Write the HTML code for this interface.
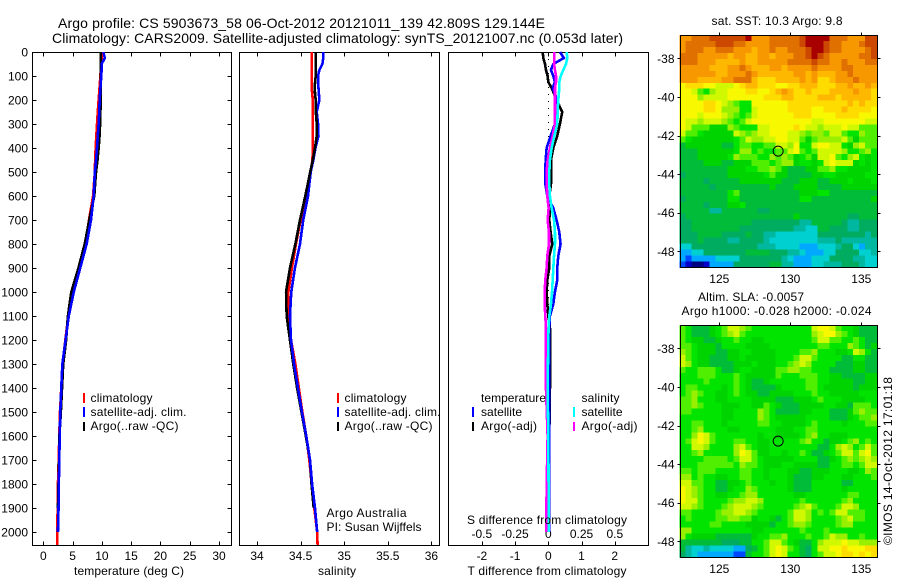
<!DOCTYPE html>
<html lang="en">
<head>
<meta charset="utf-8">
<title>Argo profile chart</title>
<style>
html,body{margin:0;padding:0;background:#fff;}
#chart{display:block;width:900px;height:580px;font-family:"Liberation Sans",sans-serif;font-size:12px;fill:#000;}
text{fill:#000;}
</style>
</head>
<body>
<svg id="chart" xmlns="http://www.w3.org/2000/svg" width="900" height="580" viewBox="0 0 900 580">
  <text x="58" y="28" font-size="14" textLength="487">Argo profile: CS 5903673_58 06-Oct-2012 20121011_139 42.809S 129.144E</text>
  <text x="52" y="43" font-size="14" textLength="571">Climatology: CARS2009. Satellite-adjusted climatology: synTS_20121007.nc (0.053d later)</text>
  <g id="panels"></g>
  <g id="maps"></g>

  <text x="129" y="575" text-anchor="middle" textLength="110">temperature (deg C)</text>
  <text x="337" y="575" text-anchor="middle" textLength="38">salinity</text>
  <text x="547" y="575" text-anchor="middle" textLength="159">T difference from climatology</text>
  <text x="547" y="524" text-anchor="middle" textLength="160">S difference from climatology</text>

  <g>
    <rect x="83" y="393" width="2" height="10" fill="#ff0000"/>
    <rect x="83" y="407" width="2" height="10" fill="#0000ff"/>
    <rect x="83" y="422" width="2" height="9" fill="#000"/>
    <text x="90.5" y="402" textLength="62">climatology</text>
    <text x="90.5" y="416" textLength="96">satellite-adj. clim.</text>
    <text x="90.5" y="430" textLength="88">Argo(..raw -QC)</text>
  </g>
  <g>
    <rect x="337" y="393" width="2" height="10" fill="#ff0000"/>
    <rect x="337" y="407" width="2" height="10" fill="#0000ff"/>
    <rect x="337" y="422" width="2" height="9" fill="#000"/>
    <text x="344.5" y="402" textLength="62">climatology</text>
    <text x="344.5" y="416" textLength="96">satellite-adj. clim.</text>
    <text x="344.5" y="430" textLength="88">Argo(..raw -QC)</text>
  </g>
  <g>
    <text x="481" y="402" textLength="65">temperature</text>
    <rect x="472" y="407" width="2" height="10" fill="#0000ff"/>
    <rect x="472" y="422" width="2" height="9" fill="#000"/>
    <text x="481" y="416" textLength="41">satellite</text>
    <text x="481" y="430" textLength="56">Argo(-adj)</text>
    <text x="581.5" y="402" textLength="38">salinity</text>
    <rect x="573" y="407" width="2" height="10" fill="#00ffff"/>
    <rect x="573" y="422" width="2" height="9" fill="#ff00ff"/>
    <text x="581.5" y="416" textLength="41">satellite</text>
    <text x="581.5" y="430" textLength="56">Argo(-adj)</text>
  </g>
  <text x="326.5" y="517" textLength="80">Argo Australia</text>
  <text x="326.5" y="531" textLength="95">PI: Susan Wijffels</text>

  <text x="711.5" y="25" textLength="131">sat. SST: 10.3  Argo: 9.8</text>
  <text x="698" y="301" textLength="106">Altim. SLA: -0.0057</text>
  <text x="681.5" y="315" textLength="190">Argo h1000: -0.028  h2000: -0.024</text>
  <text transform="translate(892,545) rotate(-90)" textLength="168">©IMOS 14-Oct-2012 17:01:18</text>
</svg>

<script>
// ---- Profile data ----
const profileDepths = [0,25,50,75,100,150,200,250,300,350,400,450,500,600,700,800,900,1000,1100,1200,1300,1400,1500,1600,1700,1800,1900,2000,2055];
const tempClim = [9.95,9.95,9.9,9.8,9.75,9.6,9.45,9.3,9.17,9.05,8.94,8.85,8.8,8.5,7.8,7.2,6.15,5.0,4.27,3.76,3.3,3.07,2.85,2.73,2.63,2.5,2.45,2.39,2.39];
const tempSat = [10.25,10.5,9.95,9.95,9.9,9.75,9.63,9.55,9.45,9.3,9.17,9.0,8.8,8.6,8.14,7.4,6.3,5.2,4.35,3.8,3.25,3.07,2.9,2.8,2.73,2.65,2.6,2.5,null];
const tempArgo = [9.8,9.8,9.8,9.8,9.8,9.8,9.8,9.75,9.7,9.6,9.45,9.25,9.0,8.7,7.85,7.07,6.0,4.78,4.2,3.9,3.4,3.2,3.0,2.75,2.7,2.6,2.5,null,null];
const salClim = [34.627,34.627,34.627,34.627,34.627,34.627,34.64,34.64,34.64,34.64,34.64,34.636,34.616,34.57,34.5,34.447,34.4,34.36,34.36,34.39,34.44,34.48,34.52,34.565,34.6,34.627,34.657,34.69,34.695];
const salSat = [34.76,34.76,34.75,34.715,34.70,34.705,34.715,34.685,34.70,34.705,34.67,34.646,34.616,34.585,34.53,34.493,34.435,34.393,34.378,34.39,34.425,34.47,34.515,34.565,34.608,34.632,34.665,34.69,null];
const salArgo = [34.673,34.673,34.673,34.673,34.673,34.66,34.673,34.675,34.685,34.685,34.665,34.64,34.61,34.554,34.493,34.44,34.378,34.333,34.34,34.378,34.416,34.46,34.51,34.56,34.608,34.625,34.65,null,null];

const diffDepths = [0,25,50,75,100,125,150,200,250,300,350,400,450,500,550,600,650,700,750,800,850,900,950,1000,1050,1100,1150,1200,1400,1600,1800,2000];
const diffTSat = [0.35,0.47,0.15,0.08,0.15,0.2,0.13,0.27,0.25,0.2,0.07,-0.05,-0.08,-0.09,-0.09,-0.03,0.15,0.25,0.33,0.37,0.3,0.27,0.27,0.2,0.15,0.05,0.03,0.03,0.03,0.02,0.02,0.02];
const diffTArgo = [-0.17,-0.15,-0.1,-0.07,-0.02,0,0.1,0.25,0.42,0.35,0.27,0.15,0.08,0.08,0.08,0.03,0.05,0.03,0.07,0.12,0.03,0.03,-0.03,-0.05,-0.03,0,0.05,0.05,0.05,0.03,0.02,0.02];
const diffSSat = [0.138,0.143,0.133,0.113,0.093,0.083,0.083,0.075,0.07,0.068,0.045,0.025,0.0125,0.0075,0.0075,0.0125,0.025,0.043,0.05,0.05,0.043,0.038,0.033,0.028,0.02,0.0075,0.002,0,-0.005,0,0.002,0.002];
const diffSArgo = [0.045,0.045,0.043,0.05,0.058,0.058,0.05,0.05,0.05,0.05,0.033,0.0125,-0.005,-0.0125,-0.0125,-0.0075,0.0025,-0.005,0.005,0.005,-0.0075,-0.0125,-0.0225,-0.0275,-0.0275,-0.0225,-0.0175,-0.0175,-0.0175,-0.005,-0.012,-0.016];

// ---- Tick labels ----
const depthTicks = [0,100,200,300,400,500,600,700,800,900,1000,1100,1200,1300,1400,1500,1600,1700,1800,1900,2000];
const tempTicks = [0,5,10,15,20,25,30];
const salTicks = [34,34.5,35,35.5,36];
const diffTTicks = [-2,-1,0,1,2];
const diffSTicks = [-0.5,-0.25,0,0.25,0.5];
const lonTicks = [125,130,135];
const latTicks = [-38,-40,-42,-44,-46,-48];
const argoLon = [129.144];
const argoLat = [-42.809];

// ---- Map colour levels ----
const colourLevels = {a:'#000080',b:'#0000c8',c:'#0048ff',d:'#00a8ff',e:'#00d0d0',f:'#00b8a0',g:'#00ac60',h:'#00bc38',i:'#00d400',j:'#00e400',k:'#50ee00',l:'#98f000',m:'#d0f800',n:'#f8f800',o:'#ffdc00',p:'#ffb800',q:'#f89800',r:'#e07000',s:'#cc4800',t:'#a80000'};

// ---- Map grids: one letter per cell, north at top ----
const sstRows = [
'qqrrrsssssstqqqrrrrrsttttrrrqqqss',
'qrrrrrsssrrqqqqrrrrrstttsrrqqqrss',
'qrrrqqrrrqqqpqqrqqrrrsttsrrqqqqrs',
'rrrqqqqqpqqppqqpqqqrrstsrqqqqqrrs',
'rrrqqqppppqppqqqqqrrrrsrrqqrqqqrr',
'qqqqqpppqqrqpppqqpqqqqrqqqqrrqqqq',
'qqqqqqppqqqrqppppppqqpqpppqqrqqqq',
'qqqppppqqrrrpoooppppqpqoopqqqrqqq',
'nooonnmmmnoppooonnoopppoooppqppqp',
'nnmkjlmmnnnoonnopqpoopoooppppqppo',
'nnnlmmmmnnnnnnoooppoooopppopppppo',
'nnnnoonmlkjjnnnnnnoooooooooopopoo',
'nnnnoonllljjmnnnnnoooonnooopoooon',
'nnnmnnnmlkjkmnnnnnnooonnnnoooonnn',
'nmmlmmmlkjkmnnnnnnnnnnmmnnnnnnnmm',
'nmkkkiiilkjjjmmnnnnonmmlmmmnmmkkk',
'mkkjiiiiimlklmmnnnmmlkllkmmkjjlkk',
'kjiiiiiiijkmllmmnnmmkikllllmkikkk',
'hiiiiiihhjkkjjkkmmlnjjmnnmmjilmkk',
'hhhiiiiiijlljkjjkkmnkjkmmmmljjklj',
'hhhiiiiijlkkkjjlklkijkimmnkjlmjij',
'hhhhiiihhiiikkkjkllijjijmnmmmijij',
'hhhhhhhhiiijjkklkihhhiikkljjiiiij',
'ghhhhhhhiiiiiijkiihhhhiijjiiiiijj',
'hhhhghhhhhiiiiiiihhhiiihhiiijiiij',
'hhhhhghhhhhhhhhihhhiiiihhhhiiiiii',
'hhhhhhhhjkhhhhhhhhhhiiijjhhhhhhhh',
'ghhhhhhhjjhhhhhhhhhhjjhhhhhhhhhhi',
'hhhhghhhiijhhhhhhhhhhhhhhhhhhhhhh',
'hhhhhffhhhhhhgghhhhhhhhhhhhhhhhhh',
'ghhhhhhhhhhhhhhhhhhihhhhhhhhgghhh',
'gghhhhhhhhhhggggggggffhhhhhgffggg',
'gghhhhhhhhgggggggggffeehhgggffggg',
'ggghhhhgggghggffeeeeeeeggggggggfg',
'ggghggggffggggfeeeeeeeefffgffffff',
'eegggggggggggfffeeeedddeeefggedff',
'ddeeggggggghhhhgggffedddeeggggeef',
'dcddddeeeegggggggfedddeeeggggffee',
'cbaabddddgggggghhffdddeefffgggfee'
];
const slaRows = [
'kjhhhijkmmlkjjjjjjjjjjmnnmkjjihhh',
'kjhhhijklmkjjjjjjjjjjjlmnnlkjihhh',
'kjiihhijjkjjiijjjjjjjjkmmkkjjkjhh',
'kkjiiihjjjjiiiijjjjjjjjkkjjjlkjhi',
'lkjiiihhiijjiiiijjjjkkljjjiijmljh',
'mkjiihhhiijiiiiijjjkmmkjjjjhhjjhh',
'mljiihhhhiiijiiijjklmljjjjhhhiihh',
'kjjkkkjhhijjiiiikkllkkjjjhhhhiihh',
'jjjkkkjjjkjiiiiikjjjkkkjjiihhhhii',
'jjjjkjjjjkjihhijjjjjjkkjjiiiihhii',
'jkkjjjjijkjihhhhijjjjkkjiiiiihiii',
'jklkjjiijkjiihhiiiijjjkjjiiiiijjj',
'kkljjjiijjjjiiiihhhiiijkjjjiiiijj',
'kklkjjjiiijjiikjihhhiiiijjiihkkkj',
'kkjjjjjiijjjjlkjhhhhiijjjhhhiklkk',
'jjjjjjjiijjjjlkjiiiiijjjjhhhijkkl',
'jjkkjjjijjjjjkkjjiiiijkjjjjijjjkk',
'jjkljjjjiijjjjjjiiijjkkjjjjjjjjjj',
'jjlnmkjjjjjjjijjiiiijkljjiiijjjjj',
'jkmnmkjjjkkjjiijjjjjkljjhiijkljkj',
'jjmmljjjjlmkjiijjjjjjjjhhjlmljkmk',
'jjkljjjjjlnmkiijjijjkjhhijkmmkmnk',
'jjjjkkkkjkmmkjiiiiijjjjhhijklklml',
'jjjkkkkkkjlkkjiiijjiiiihhjjkkjkmm',
'kkjkkkjjjjkkjjijjjiihhiiijjjiijlk',
'lljkjjiijjkkjjijjjihhhiijjjiijjjk',
'mmkkjjhhiijkjjjijjihhhjjjjjhhjjjj',
'nmlkjjhhijjlkjjjjjihhhjjjjjijjjjj',
'nmlkjjiijjklljjjjjjiijjjjjjjkkjjj',
'nmmkjjjjkllmmljjjjjjkjjjjjjkljjjj',
'mmlkjjjklmmmlkjjjjjklmkjjjkmmljjj',
'kkjjjjkllmmlkjjjjjkmmljkjkmmkkkjj',
'jkjjjjkkllkkijjihjkmmljjjjklmkkjj',
'jjjjjkkjjjjiiiihjjkllkjjjjklljjjj',
'lljjjjjjjjjjiijjjjjjkjjjkjjjjjjjj',
'ljiiiihhhhhhijjkkljjjkjjkmlljjkjj',
'hhhhhhhggghhjjkmmkjihhjlmmmnmmlll',
'hfeefeeeeddghjkmnmkjhgjmmnnonnnoo',
'gfeddddddcchjjkmnmjjhgjkmmnoonono'
];
</script>
<script>
const NS = 'http://www.w3.org/2000/svg';
const panelsG = document.getElementById('panels');
const mapsG = document.getElementById('maps');

function make(tag, props, parent) {
  const el = document.createElementNS(NS, tag);
  for (const k in props) el.setAttribute(k, props[k]);
  parent.appendChild(el);
  return el;
}

// ---- axis functions ----
const PTOP = 52.5, PBOT = 545.5;
const LINE_W = 2.6;
function depthY(d) { return 52 + d * 0.24; }
function tempX(t) { return 43.3 + t * 5.857; }
function salX(s) { return 257 + (s - 34) * 87.2; }
function diffTX(t) { return 548.3 + t * 33.2; }
function diffSX(s) { return 548.3 + s * 133; }
function lonX(lon) { return 719.3 + (lon - 125) * 14.2; }
function sstLatY(lat) { return 58.3 + (-38 - lat) * 19.3; }
function slaLatY(lat) { return 348.3 + (-38 - lat) * 19.3; }

function frame(name, x0, x1) {
  const r = make('rect', {x: x0, y: PTOP, width: x1 - x0, height: PBOT - PTOP, fill: 'none', stroke: '#000', 'stroke-width': 1, 'shape-rendering': 'crispEdges'}, panelsG);
  
  
}

function series(name, depths, values, xFn, colour, width) {
  let pts = [];
  for (let i = 0; i < depths.length; i++) {
    if (values[i] === null) continue;
    pts.push(xFn(values[i]).toFixed(2) + ',' + depthY(depths[i]).toFixed(2));
  }
  const p = make('polyline', {points: pts.join(' '), fill: 'none', stroke: colour, 'stroke-width': width, 'shape-rendering': 'crispEdges', 'stroke-linejoin': 'miter'}, panelsG);
  
  
}

function xTicks(prefix, ticks, xFn, labelY, withTop, withBottom) {
  ticks.forEach(function (t) {
    const x = Math.round(xFn(t)) + 0.5;
    if (withTop) {
      const a = make('line', {x1: x, x2: x, y1: PTOP, y2: PTOP + 4, stroke: '#000', 'shape-rendering': 'crispEdges'}, panelsG);
      
      
    }
    if (withBottom) {
      const b = make('line', {x1: x, x2: x, y1: PBOT - 4, y2: PBOT, stroke: '#000', 'shape-rendering': 'crispEdges'}, panelsG);
      
      
    }
    const l = make('text', {x: xFn(t), y: labelY, 'text-anchor': 'middle'}, panelsG);
    l.textContent = String(t);
    
    
  });
}

// temperature panel
frame('temperature-plot-frame', 32.5, 231.5);
depthTicks.forEach(function (d) {
  const y = Math.round(depthY(d)) + 0.5;
  if (d > 0) {
    const a = make('line', {x1: 32.5, x2: 36.5, y1: y, y2: y, stroke: '#000', 'shape-rendering': 'crispEdges'}, panelsG);
    
    
    const b = make('line', {x1: 227.5, x2: 231.5, y1: y, y2: y, stroke: '#000', 'shape-rendering': 'crispEdges'}, panelsG);
    
    
  }
  const l = make('text', {x: 28, y: depthY(d) + 4.5, 'text-anchor': 'end'}, panelsG);
  l.textContent = String(d);
  
  
});
xTicks('temperature', tempTicks, tempX, 560, true, true);
series('temperature-climatology-line', profileDepths, tempClim, tempX, '#ff0000', LINE_W);
series('temperature-argo-line', profileDepths, tempArgo, tempX, '#000000', LINE_W);
series('temperature-satellite-line', profileDepths, tempSat, tempX, '#0000ff', LINE_W);

// salinity panel
frame('salinity-plot-frame', 239.5, 439.5);
xTicks('salinity', salTicks, salX, 560, true, true);
series('salinity-climatology-line', profileDepths, salClim, salX, '#ff0000', LINE_W);
series('salinity-satellite-line', profileDepths, salSat, salX, '#0000ff', LINE_W);
series('salinity-argo-line', profileDepths, salArgo, salX, '#000000', LINE_W);
// the reference draws satellite over Argo below about 1100 m
series('salinity-satellite-deep-line', profileDepths.slice(18), salSat.slice(18), salX, '#0000ff', LINE_W);

// difference panel
frame('difference-plot-frame', 448.5, 648.5);
xTicks('difference-t', diffTTicks, diffTX, 560, true, true);
xTicks('difference-s', diffSTicks, diffSX, 538, false, false);
const zeroLine = make('line', {x1: diffTX(0), x2: diffTX(0), y1: depthY(0), y2: depthY(2000), stroke: '#000', 'stroke-dasharray': '1 6', 'shape-rendering': 'crispEdges'}, panelsG);


series('difference-t-argo-line', diffDepths, diffTArgo, diffTX, '#000000', LINE_W);
series('difference-t-satellite-line', diffDepths, diffTSat, diffTX, '#0000ff', LINE_W);
series('difference-s-argo-line', diffDepths, diffSArgo, diffSX, '#ff00ff', LINE_W);
series('difference-s-satellite-line', diffDepths, diffSSat, diffSX, '#00ffff', LINE_W);

// ---- maps ----
function drawMap(prefix, rows, latY, tickLabelY) {
  const COLS = 33;
  const dLon = 13.92 / COLS;
  const dLat = 12.03 / rows.length;
  const lon0 = 122.2;
  const lat0 = -36.8;
  rows.forEach(function (row, r) {
    const cells = row.padEnd(COLS, row[row.length - 1]).slice(0, COLS);
    for (let c = 0; c < COLS; c++) {
      const x0 = lonX(lon0 + c * dLon);
      const x1 = lonX(lon0 + (c + 1) * dLon);
      const y0 = latY(lat0 - r * dLat);
      const y1 = latY(lat0 - (r + 1) * dLat);
      const cell = make('rect', {x: x0.toFixed(2), y: y0.toFixed(2), width: (x1 - x0 + 0.5).toFixed(2), height: (y1 - y0 + 0.5).toFixed(2), fill: colourLevels[cells[c]], 'shape-rendering': 'crispEdges'}, mapsG);
      
      
    }
  });
  const L = Math.round(lonX(lon0)) + 0.5;
  const R = Math.round(lonX(lon0 + 13.92)) + 0.5;
  const T = Math.round(latY(lat0)) + 0.5;
  const B = Math.round(latY(lat0 - 12.03)) + 0.5;
  const box = make('rect', {x: L, y: T, width: R - L, height: B - T, fill: 'none', stroke: '#000', 'shape-rendering': 'crispEdges'}, mapsG);
  
  
  lonTicks.forEach(function (lon) {
    const x = Math.round(lonX(lon)) + 0.5;
    const a = make('line', {x1: x, x2: x, y1: T - 3, y2: T, stroke: '#000', 'shape-rendering': 'crispEdges'}, mapsG);
    
    
    const l = make('text', {x: lonX(lon), y: tickLabelY, 'text-anchor': 'middle'}, mapsG);
    l.textContent = String(lon);
    
    
  });
  latTicks.forEach(function (lat) {
    const y = Math.round(latY(lat)) + 0.5;
    const a = make('line', {x1: L - 3, x2: L, y1: y, y2: y, stroke: '#000', 'shape-rendering': 'crispEdges'}, mapsG);
    
    
    const b = make('line', {x1: R, x2: R + 3, y1: y, y2: y, stroke: '#000', 'shape-rendering': 'crispEdges'}, mapsG);
    
    
    const l = make('text', {x: 674.5, y: latY(lat) + 4.5, 'text-anchor': 'end'}, mapsG);
    l.textContent = String(lat);
    
    
  });
  const dot = make('circle', {cx: lonX(argoLon[0]), cy: latY(argoLat[0]), r: 5, fill: 'none', stroke: '#000'}, mapsG);
  
  
}
drawMap('sst', sstRows, sstLatY, 283);
drawMap('sla', slaRows, slaLatY, 573);
</script>
</body>
</html>
